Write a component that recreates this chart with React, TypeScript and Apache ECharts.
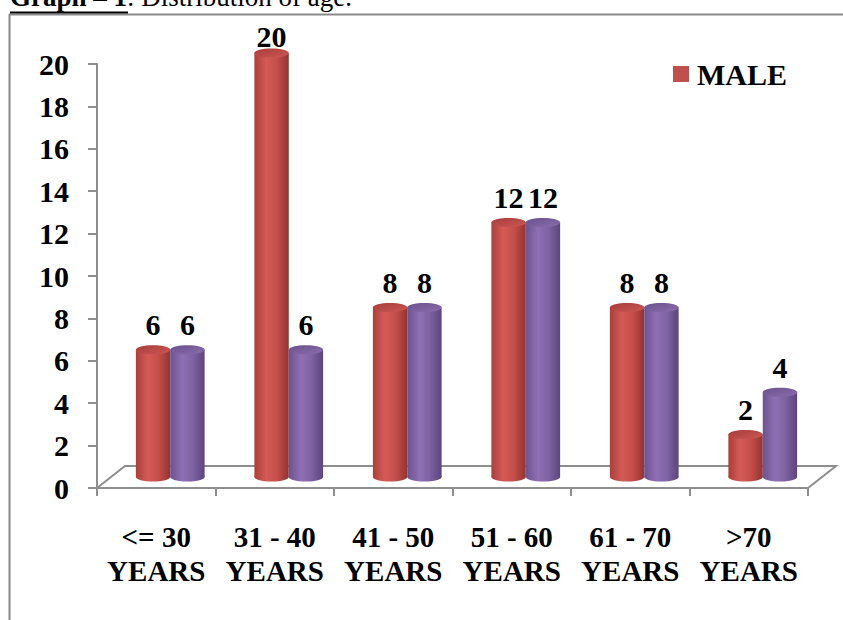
import { useEffect, useRef } from 'react';
import * as echarts from 'echarts';

// Age groups and head counts per group
const ageGroups = ['<= 30\nYEARS', '31 - 40\nYEARS', '41 - 50\nYEARS', '51 - 60\nYEARS', '61 - 70\nYEARS', '>70\nYEARS'];
const maleCounts = [6, 20, 8, 12, 8, 2];
const femaleCounts = [6, 6, 8, 12, 8, 4];
const Y_MIN = 0;
const Y_MAX = 20;
const Y_STEP = 2;

const FONT = '"Liberation Serif", "Times New Roman", serif';
const AXIS_GREY = '#8e8e8e';

// pseudo-3D geometry: bars stand half-way into the floor
const FLOOR_DX = 28;
const FLOOR_DY = -22;
const BAR_DX = 14;
const BAR_DY = -11;
const CAP_RY = 4.5;
const LABEL_MIN_Y = 36;

const RED = '#c0504d';
const PURPLE = '#8064a2';

const bodyGradient = (stops: string[]) =>
  new echarts.graphic.LinearGradient(0, 0, 1, 0, [
    { offset: 0, color: stops[0] },
    { offset: 0.35, color: stops[1] },
    { offset: 0.65, color: stops[2] },
    { offset: 1, color: stops[3] },
  ]);

const capGradient = (a: string, b: string) =>
  new echarts.graphic.LinearGradient(0, 0, 1, 1, [
    { offset: 0, color: a },
    { offset: 1, color: b },
  ]);

const SHADES: Record<string, { body: string[]; cap: [string, string] }> = {
  red: { body: ['#a8403c', '#d55a56', '#c54f4b', '#94332f'], cap: ['#a33d3a', '#cf5753'] },
  purple: { body: ['#6c538d', '#8e6fb4', '#7f63a4', '#5c457c'], cap: ['#6a518b', '#8a6cae'] },
};

function cylinder(shadeKey: string, side: number) {
  return (params: any, api: any) => {
    const cat = api.value(0);
    const val = api.value(1);
    const base = api.coord([cat, 0]);
    const top = api.coord([cat, val]);
    const band = api.size([1, 0])[0];
    const w = band * 0.29;
    const cx = base[0] + BAR_DX + side * (w / 2);
    const yb = base[1] + BAR_DY;
    const yt = top[1] + BAR_DY;
    const shade = SHADES[shadeKey];
    const body = bodyGradient(shade.body);
    const labelY = Math.max(yt - 25, LABEL_MIN_Y);
    return {
      type: 'group',
      children: [
        {
          type: 'ellipse',
          shape: { cx, cy: yb, rx: w / 2, ry: CAP_RY },
          style: { fill: body },
        },
        {
          type: 'rect',
          shape: { x: cx - w / 2, y: yt, width: w, height: yb - yt },
          style: { fill: body },
        },
        {
          type: 'ellipse',
          shape: { cx, cy: yt, rx: w / 2, ry: CAP_RY },
          style: { fill: capGradient(shade.cap[0], shade.cap[1]) },
        },
        {
          type: 'text',
          x: cx,
          y: labelY,
          style: {
            text: String(val),
            fill: '#000',
            font: `bold 30px ${FONT}`,
            align: 'center',
            verticalAlign: 'middle',
          },
        },
      ],
    };
  };
}

function floor(params: any, api: any) {
  const band = api.size([1, 0])[0];
  const first = api.coord([0, 0]);
  const last = api.coord([ageGroups.length - 1, 0]);
  const x0 = first[0] - band / 2;
  const x1 = last[0] + band / 2;
  const y = first[1];
  return {
    type: 'polyline',
    shape: {
      points: [
        [x0, y],
        [x0 + FLOOR_DX, y + FLOOR_DY],
        [x1 + FLOOR_DX, y + FLOOR_DY],
        [x1, y],
      ],
    },
    style: { fill: null, stroke: AXIS_GREY, lineWidth: 2 },
    silent: true,
  };
}

export default function App() {
  const ref = useRef<HTMLDivElement>(null);

  useEffect(() => {
    if (!ref.current) return;
    const chart = echarts.init(ref.current, null, { renderer: 'svg' });
    chart.setOption({
      animation: false,
      backgroundColor: '#ffffff',
      grid: { left: 97, right: 35, top: 64, bottom: 132 },
      legend: {
        data: ['MALE'],
        left: 673,
        top: 59,
        padding: 0,
        icon: 'rect',
        itemWidth: 16,
        itemHeight: 16,
        selectedMode: false,
        textStyle: { fontFamily: FONT, fontWeight: 'bold', fontSize: 30, color: '#000', padding: [0, 0, 0, 3] },
      },
      xAxis: {
        type: 'category',
        data: ageGroups,
        boundaryGap: true,
        axisLine: { show: true, lineStyle: { color: AXIS_GREY, width: 2 } },
        axisTick: { show: true, length: 8, lineStyle: { color: AXIS_GREY, width: 2 } },
        axisLabel: {
          interval: 0,
          margin: 32,
          lineHeight: 34,
          fontFamily: FONT,
          fontWeight: 'bold',
          fontSize: 29,
          color: '#000',
        },
        splitLine: { show: false },
      },
      yAxis: {
        type: 'value',
        min: Y_MIN,
        max: Y_MAX,
        interval: Y_STEP,
        axisLine: { show: true, lineStyle: { color: AXIS_GREY, width: 2 } },
        axisTick: { show: true, length: 9, lineStyle: { color: AXIS_GREY, width: 2 } },
        axisLabel: {
          margin: 28,
          fontFamily: FONT,
          fontWeight: 'bold',
          fontSize: 30,
          color: '#000',
        },
        splitLine: { show: false },
      },
      graphic: [
        {
          type: 'line',
          shape: { x1: 9.5, y1: 14, x2: 9.5, y2: 620 },
          style: { stroke: '#8a8a8a', lineWidth: 2 },
        },
        {
          type: 'line',
          shape: { x1: 9, y1: 14.5, x2: 843, y2: 14.5 },
          style: { stroke: '#8a8a8a', lineWidth: 2 },
        },
        {
          type: 'text',
          left: 10,
          top: -17,
          style: {
            rich: {
              b: { fontFamily: FONT, fontWeight: 'bold', fontSize: 27, fill: '#000' },
              r: { fontFamily: FONT, fontSize: 27, fill: '#000' },
            },
            text: '{b|Graph – 1}{r|: Distribution of age.}',
          },
        },
        {
          type: 'line',
          shape: { x1: 10, y1: 12.5, x2: 128, y2: 12.5 },
          style: { stroke: '#000', lineWidth: 2 },
        },
      ],
      series: [
        {
          name: 'floor',
          type: 'custom',
          renderItem: floor,
          data: [[0, 0]],
          z: 1,
          silent: true,
        },
        {
          name: 'MALE',
          type: 'custom',
          renderItem: cylinder('red', -1),
          itemStyle: { color: RED },
          data: maleCounts.map((v, i) => [i, v]),
          z: 2,
        },
        {
          name: 'FEMALE',
          type: 'custom',
          renderItem: cylinder('purple', 1),
          itemStyle: { color: PURPLE },
          data: femaleCounts.map((v, i) => [i, v]),
          z: 3,
        },
      ],
    });
    return () => chart.dispose();
  }, []);

  return (
    <div
      ref={ref}
      style={{ position: 'fixed', left: 0, top: 0, width: 843, height: 620, background: '#fff' }}
    />
  );
}
